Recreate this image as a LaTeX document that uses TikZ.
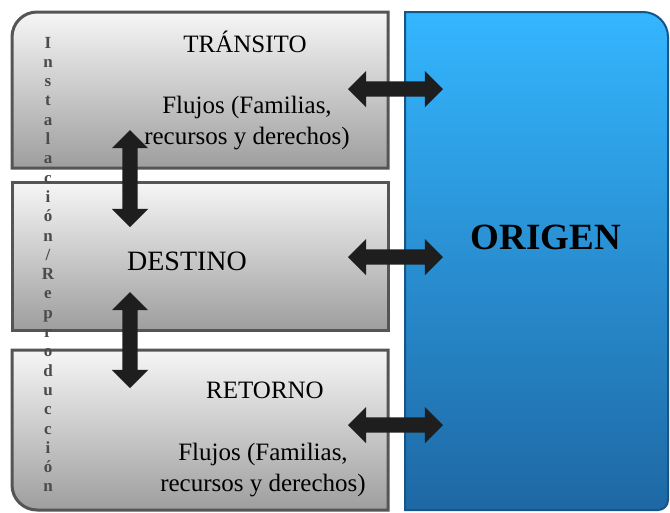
\documentclass[tikz,border=0pt]{standalone}
\usepackage{fontspec}
\setmainfont{Liberation Serif}
\newfontfamily\tnr{Liberation Serif}
\usetikzlibrary{shapes.arrows}
\definecolor{bluetop}{RGB}{52,182,255}
\definecolor{bluebot}{RGB}{30,104,164}
\definecolor{blueedge}{RGB}{22,85,135}
\definecolor{graytop}{RGB}{246,246,246}
\definecolor{graybot}{RGB}{158,158,158}
\definecolor{grayedge}{RGB}{85,85,85}
\definecolor{lettergray}{RGB}{75,75,75}
\definecolor{arrowblack}{RGB}{30,30,30}
\begin{document}
\begin{tikzpicture}[x=1pt,y=-1pt,
  graybox/.style={draw=grayedge, line width=3pt, top color=graytop, bottom color=graybot},
  bluebox/.style={draw=blueedge, line width=2pt, top color=bluetop, bottom color=bluebot},
  dblarrow/.style={double arrow, fill=arrowblack, draw=none, inner sep=7.5pt,
    double arrow head extend=10.5pt, minimum height=#1, anchor=center},
  letter/.style={anchor=base, text=lettergray, inner sep=0pt, font=\tnr\bfseries\fontsize{17}{17}\selectfont},
  lbl/.style={font=\tnr\fontsize{25}{31}\selectfont, align=center, inner sep=0pt}
]
\useasboundingbox (0,0) rectangle (670,512);
\fill[white] (0,0) rectangle (670,512);

% gray boxes
\path[graybox] (388,168) -- (12,168) -- (12,37) arc[start angle=180,end angle=270,radius=25] -- (388,12) -- cycle;
\path[graybox] (12,182) rectangle (388,330);
\path[graybox] (388,350) -- (12,350) -- (12,485) arc[start angle=180,end angle=90,radius=25] -- (388,510) -- cycle;

% blue box
\path[bluebox] (405,12) -- (643,12) arc[start angle=270,end angle=360,radius=25] -- (668,500) arc[start angle=0,end angle=90,radius=10] -- (405,510) -- cycle;

% texts
\node[lbl, anchor=base] (transito) at (245,52) {TRÁNSITO};
\node[lbl] (flujos1) at (247,123) {Flujos (Familias,\\recursos y derechos)};
\node[lbl, anchor=base, font=\tnr\fontsize{28}{28}\selectfont] (destino) at (187,270) {DESTINO};
\node[lbl, anchor=base] (retorno) at (265,398) {RETORNO};
\node[lbl] (flujos2) at (263,470) {Flujos (Familias,\\recursos y derechos)};
\node[anchor=base, inner sep=0pt, font=\tnr\bfseries\fontsize{37}{37}\selectfont] (origen) at (546,249) {ORIGEN};

% vertical letters
\foreach \ch [count=\i from 0] in {I,n,s,t,a,l,a,c,i,ó,n,/,R,e,p,r,o,d,u,c,c,i,ó,n}
  \node[letter] (l\i) at (48,{48+19.3*\i}) {\ch};

% arrows
\node[dblarrow=95pt] (a1) at (395.5,89) {};
\node[dblarrow=95pt] (a2) at (395.5,257) {};
\node[dblarrow=95pt] (a3) at (395.5,425) {};
\node[dblarrow=97pt, rotate=90] (v1) at (130,178.5) {};
\node[dblarrow=96pt, rotate=90] (v2) at (130,340) {};
\end{tikzpicture}
\end{document}
